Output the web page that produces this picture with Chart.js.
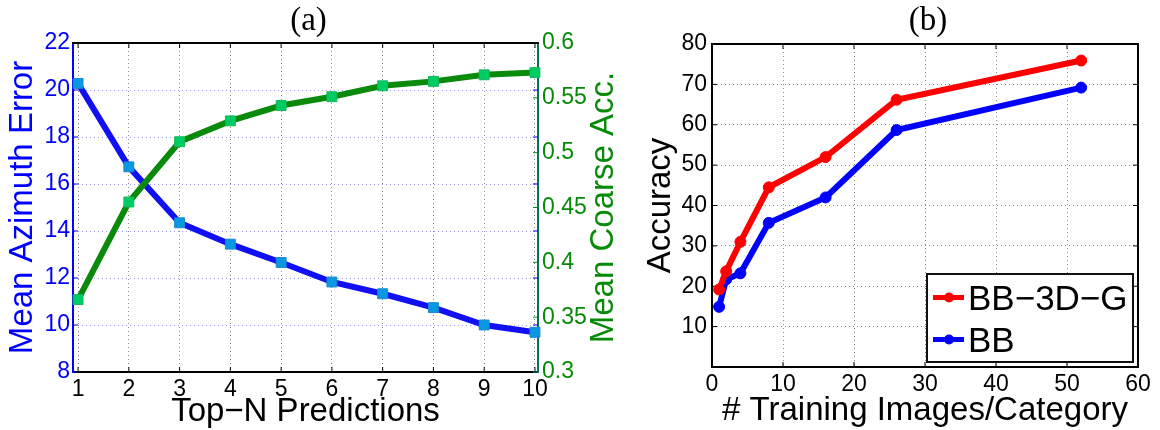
<!DOCTYPE html>
<html>
<head>
<meta charset="utf-8">
<script src="https://cdn.jsdelivr.net/npm/chart.js@4.4.1/dist/chart.umd.min.js"></script>
<style>
  html, body { margin: 0; padding: 0; background: #fff; }
  #wrap { position: relative; width: 1160px; height: 430px; overflow: hidden; }
  #chart-a { position: absolute; left: 0; top: 0; }
  #chart-b { position: absolute; left: 625px; top: 0; }
</style>
</head>
<body>
<div id="wrap">
  <canvas id="chart-a" width="625" height="430"></canvas>
  <canvas id="chart-b" width="535" height="430"></canvas>
</div>
<script>
// (a) top-N predictions
const topN = [1, 2, 3, 4, 5, 6, 7, 8, 9, 10];
const azimuthError = [20.28, 16.73, 14.35, 13.44, 12.66, 11.83, 11.33, 10.74, 10.0, 9.69];
const coarseAcc = [0.366, 0.455, 0.510, 0.529, 0.543, 0.551, 0.561, 0.565, 0.571, 0.573];
const topNTicks = [1, 2, 3, 4, 5, 6, 7, 8, 9, 10];
const azimuthTicks = [8, 10, 12, 14, 16, 18, 20, 22];
const coarseTicks = [0.3, 0.35, 0.4, 0.45, 0.5, 0.55, 0.6];

// (b) training set size
const trainImages = [1, 2, 4, 8, 16, 26, 52];
const accBB3DG = [19.2, 23.7, 31.0, 44.5, 52.0, 66.2, 75.9];
const accBB = [14.9, 21.7, 23.2, 35.7, 42.0, 58.7, 69.2];
const imageTicks = [0, 10, 20, 30, 40, 50, 60];
const accuracyTicks = [0, 10, 20, 30, 40, 50, 60, 70, 80];

const sans = "'Liberation Sans', Arial, sans-serif";
const tickSize = 23;
const labelSize = 33;
const colors = {
    blueLine: '#1010f2',
    blueMark: '#0a98e2',
    greenLine: '#0a8a0a',
    greenMark: '#00cc66',
    greenText: '#078a07',
    blueText: '#0000ff',
    red: '#ff0000',
    blue: '#0000ff',
    gridGray: '#8a8a8a',
    gridBlue: '#9a9aff'
};

const setTicks = values => scale => { scale.ticks = values.map(v => ({ value: v })); };

// MATLAB-style box: extra edges and inward tick marks
const matlabBox = {
    id: 'matlabBox',
    beforeDatasetsDraw(chart, args, opts) {
        const { ctx, chartArea: a } = chart;
        ctx.save();
        ctx.lineWidth = 1;
        (opts.marks || []).forEach(m => {
            const s = chart.scales[m.axis];
            ctx.strokeStyle = m.color;
            ctx.beginPath();
            s.ticks.forEach(t => {
                const p = s.getPixelForValue(t.value);
                m.sides.forEach(side => {
                    if (side === 'bottom') { ctx.moveTo(p, a.bottom); ctx.lineTo(p, a.bottom - 5); }
                    if (side === 'top') { ctx.moveTo(p, a.top); ctx.lineTo(p, a.top + 5); }
                    if (side === 'left') { ctx.moveTo(a.left, p); ctx.lineTo(a.left + 5, p); }
                    if (side === 'right') { ctx.moveTo(a.right, p); ctx.lineTo(a.right - 5, p); }
                });
            });
            ctx.stroke();
        });
        ctx.lineWidth = 2;
        (opts.edges || []).forEach(e => {
            ctx.strokeStyle = e.color;
            ctx.beginPath();
            if (e.side === 'top') { ctx.moveTo(a.left - 1, a.top); ctx.lineTo(a.right + 1, a.top); }
            if (e.side === 'right') { ctx.moveTo(a.right, a.top - 1); ctx.lineTo(a.right, a.bottom + 1); }
            ctx.stroke();
        });
        ctx.restore();
    },
    afterDraw(chart, args, opts) {
        const { ctx, chartArea: a } = chart;
        ctx.save();
        if (opts.title) {
            ctx.fillStyle = '#000';
            ctx.font = "33px 'Liberation Serif', 'Times New Roman', serif";
            ctx.textAlign = 'center';
            ctx.textBaseline = 'middle';
            ctx.fillText(opts.title, (a.left + a.right) / 2 + 3, 21);
        }
        if (opts.sideTitle) {
            const t = opts.sideTitle;
            ctx.translate(t.x, (a.top + a.bottom) / 2);
            ctx.rotate(-Math.PI / 2);
            ctx.fillStyle = t.color;
            ctx.font = labelSize + 'px ' + sans;
            ctx.textAlign = 'center';
            ctx.textBaseline = 'middle';
            ctx.fillText(t.text, 0, 0);
        }
        ctx.restore();
    }
};

// legend box in the lower right corner of the plot
const boxLegend = {
    id: 'boxLegend',
    afterDatasetsDraw(chart, args, opts) {
        if (!opts.display) return;
        const { ctx, chartArea: a } = chart;
        const w = 206, h = 88;
        const x0 = a.right - 5 - w, y0 = a.bottom - 5 - h;
        ctx.save();
        ctx.fillStyle = '#fff';
        ctx.fillRect(x0, y0, w, h);
        ctx.strokeStyle = '#111';
        ctx.lineWidth = 2;
        ctx.strokeRect(x0, y0, w, h);
        ctx.font = '35px ' + sans;
        ctx.textBaseline = 'alphabetic';
        chart.data.datasets.forEach((ds, i) => {
            const cy = y0 + 23.5 + i * 42;
            ctx.strokeStyle = ds.borderColor;
            ctx.lineWidth = 5;
            ctx.beginPath();
            ctx.moveTo(x0 + 6, cy);
            ctx.lineTo(x0 + 37, cy);
            ctx.stroke();
            ctx.fillStyle = ds.borderColor;
            ctx.beginPath();
            ctx.arc(x0 + 22, cy, 5, 0, Math.PI * 2);
            ctx.fill();
            ctx.fillStyle = '#000';
            ctx.fillText(ds.label, x0 + 41, cy + 12.5);
        });
        ctx.restore();
    }
};

new Chart(document.getElementById('chart-a'), {
    type: 'line',
    data: {
        datasets: [
            {
                label: 'Mean Coarse Acc.',
                data: topN.map((x, i) => ({ x: x, y: coarseAcc[i] })),
                yAxisID: 'y2',
                borderColor: colors.greenLine,
                borderWidth: 6,
                pointStyle: 'rect',
                pointRadius: 7,
                pointBackgroundColor: colors.greenMark,
                pointBorderColor: '#12b85a',
                pointBorderWidth: 1,
                clip: false
            },
            {
                label: 'Mean Azimuth Error',
                data: topN.map((x, i) => ({ x: x, y: azimuthError[i] })),
                yAxisID: 'y',
                borderColor: colors.blueLine,
                borderWidth: 6,
                pointStyle: 'rect',
                pointRadius: 7,
                pointBackgroundColor: colors.blueMark,
                pointBorderColor: '#1a86d0',
                pointBorderWidth: 1,
                clip: false
            }
        ]
    },
    options: {
        responsive: false,
        animation: false,
        layout: { padding: { top: 43, left: 0, right: 0, bottom: 0 } },
        plugins: {
            legend: { display: false },
            tooltip: { enabled: false },
            matlabBox: {
                title: '(a)',
                sideTitle: { text: 'Mean Coarse Acc.', color: colors.greenText, x: 604 },
                edges: [{ side: 'top', color: '#000' }],
                marks: [
                    { axis: 'x', color: '#000', sides: ['bottom', 'top'] },
                    { axis: 'y', color: colors.blueText, sides: ['left', 'right'] },
                    { axis: 'y2', color: colors.greenText, sides: ['right'] }
                ]
            }
        },
        scales: {
            x: {
                type: 'linear',
                min: 0.9,
                max: 10.06,
                afterBuildTicks: setTicks(topNTicks),
                afterFit: s => { s.height = 58; },
                grid: { color: colors.gridGray, lineWidth: 1, drawTicks: false },
                border: { color: '#000', width: 2, dash: [1, 3] },
                ticks: { color: '#000', padding: 4, font: { family: sans, size: tickSize } },
                title: {
                    display: true,
                    text: 'Top\u2212N Predictions',
                    color: '#000',
                    font: { family: sans, size: labelSize, lineHeight: 1 },
                    padding: { top: 0, bottom: 2 }
                }
            },
            y: {
                position: 'left',
                min: 8,
                max: 22,
                afterBuildTicks: setTicks(azimuthTicks),
                afterFit: s => { s.width = 73; },
                grid: { color: colors.gridBlue, lineWidth: 1, drawTicks: false },
                border: { color: colors.blueText, width: 2, dash: [1, 3] },
                ticks: { color: colors.blueText, padding: 3, font: { family: sans, size: tickSize } },
                title: {
                    display: true,
                    text: 'Mean Azimuth Error',
                    color: colors.blueText,
                    font: { family: sans, size: labelSize, lineHeight: 1 },
                    padding: { top: 6, bottom: 0 }
                }
            },
            y2: {
                position: 'right',
                min: 0.3,
                max: 0.6,
                afterBuildTicks: setTicks(coarseTicks),
                afterFit: s => { s.width = 87; },
                grid: { drawOnChartArea: false, drawTicks: false },
                border: { color: '#0d6d5c', width: 2 },
                ticks: {
                    color: colors.greenText,
                    padding: 4,
                    font: { family: sans, size: tickSize },
                    callback: v => String(+v.toFixed(2))
                }
            }
        }
    },
    plugins: [matlabBox]
});

new Chart(document.getElementById('chart-b'), {
    type: 'line',
    data: {
        datasets: [
            {
                label: 'BB\u22123D\u2212G',
                data: trainImages.map((x, i) => ({ x: x, y: accBB3DG[i] })),
                borderColor: colors.red,
                borderWidth: 6,
                pointRadius: 5.5,
                pointBackgroundColor: colors.red,
                pointBorderColor: colors.red,
                pointBorderWidth: 1,
                clip: false
            },
            {
                label: 'BB',
                data: trainImages.map((x, i) => ({ x: x, y: accBB[i] })),
                borderColor: colors.blue,
                borderWidth: 6,
                pointRadius: 5.5,
                pointBackgroundColor: colors.blue,
                pointBorderColor: colors.blue,
                pointBorderWidth: 1,
                clip: false
            }
        ]
    },
    options: {
        responsive: false,
        animation: false,
        layout: { padding: { top: 44, left: 0, right: 22, bottom: 0 } },
        plugins: {
            legend: { display: false },
            tooltip: { enabled: false },
            boxLegend: { display: true },
            matlabBox: {
                title: '(b)',
                edges: [{ side: 'top', color: '#000' }, { side: 'right', color: '#000' }],
                marks: [
                    { axis: 'x', color: '#000', sides: ['bottom', 'top'] },
                    { axis: 'y', color: '#000', sides: ['left', 'right'] }
                ]
            }
        },
        scales: {
            x: {
                type: 'linear',
                min: 0,
                max: 60,
                afterBuildTicks: setTicks(imageTicks),
                afterFit: s => { s.height = 63; },
                grid: { color: colors.gridGray, lineWidth: 1, drawTicks: false },
                border: { color: '#000', width: 2, dash: [1, 3] },
                ticks: { color: '#000', padding: 4, font: { family: sans, size: tickSize } },
                title: {
                    display: true,
                    text: '# Training Images/Category',
                    color: '#000',
                    font: { family: sans, size: labelSize, lineHeight: 1 },
                    padding: { top: 0, bottom: 3 }
                }
            },
            y: {
                min: 0,
                max: 80,
                afterBuildTicks: setTicks(accuracyTicks),
                afterFit: s => { s.width = 87; },
                grid: { color: colors.gridGray, lineWidth: 1, drawTicks: false },
                border: { color: '#000', width: 2, dash: [1, 3] },
                ticks: {
                    color: '#000',
                    padding: 5,
                    font: { family: sans, size: tickSize },
                    callback: v => (v === 0 ? '' : String(v))
                },
                title: {
                    display: true,
                    text: 'Accuracy',
                    color: '#000',
                    font: { family: sans, size: labelSize, lineHeight: 1 },
                    padding: { top: 19, bottom: 0 }
                }
            }
        }
    },
    plugins: [matlabBox, boxLegend]
});
</script>
</body>
</html>
